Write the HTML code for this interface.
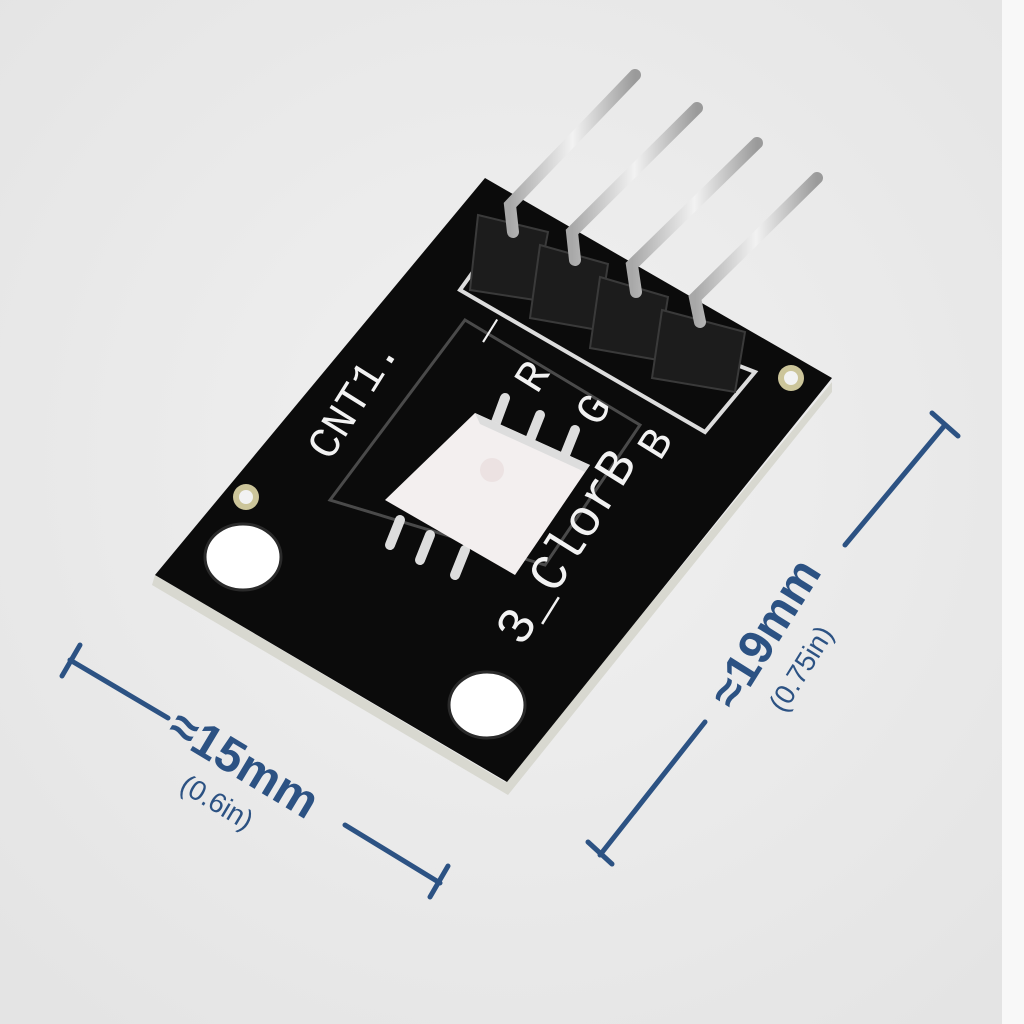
<!DOCTYPE html>
<html><head><meta charset="utf-8"><style>
html,body{margin:0;padding:0;width:1024px;height:1024px;overflow:hidden;background:#ebebeb}
svg{display:block}
</style></head><body>
<svg width="1024" height="1024" viewBox="0 0 1024 1024" xmlns="http://www.w3.org/2000/svg">
<defs>
<radialGradient id="bg" cx="50%" cy="45%" r="70%"><stop offset="0" stop-color="#f1f1f1"/><stop offset="1" stop-color="#e4e4e4"/></radialGradient>
<linearGradient id="pin" x1="0" y1="0" x2="1" y2="0"><stop offset="0" stop-color="#a8a8a8"/><stop offset="0.5" stop-color="#f2f2f2"/><stop offset="1" stop-color="#9a9a9a"/></linearGradient>
</defs>
<rect width="1024" height="1024" fill="url(#bg)"/>
<rect x="1002" y="0" width="22" height="1024" fill="#f8f8f8"/>
<polygon points="155,575 505,782 832,382 832,392 508,795 152,585" fill="#d8d8d0"/>
<polygon points="485,178 832,378 507,782 155,575" fill="#0b0b0b"/>
<ellipse cx="243" cy="557" rx="38" ry="33" fill="#fff" stroke="#2a2a2a" stroke-width="3"/>
<ellipse cx="487" cy="705" rx="38" ry="33" fill="#fff" stroke="#2a2a2a" stroke-width="3"/>
<circle cx="246" cy="497" r="13" fill="#ccc59a"/><circle cx="246" cy="497" r="7" fill="#f2f2f2"/>
<circle cx="791" cy="378" r="13" fill="#ccc59a"/><circle cx="791" cy="378" r="7" fill="#f2f2f2"/>
<polygon points="478,265 755,372 705,432 460,290" fill="none" stroke="#ddd" stroke-width="4"/>
<polygon points="465,320 640,425 545,565 330,500" fill="none" stroke="#4a4a4a" stroke-width="3"/>
<g fill="#1c1c1c" stroke="#3a3a3a" stroke-width="2">
<polygon points="478,215 548,232 535,300 470,290"/>
<polygon points="540,245 608,264 598,330 530,318"/>
<polygon points="600,277 668,297 658,360 590,348"/>
<polygon points="662,310 745,332 735,392 652,378"/>
</g>
<g stroke="url(#pin)" stroke-width="12" stroke-linecap="round" fill="none">
<path d="M513,232 L510,205 L635,75"/>
<path d="M575,260 L572,232 L697,108"/>
<path d="M636,292 L632,265 L757,143"/>
<path d="M700,322 L695,298 L817,178"/>
</g>
<g stroke="#ddd" stroke-width="10" stroke-linecap="round">
<line x1="505" y1="398" x2="495" y2="425"/><line x1="540" y1="415" x2="530" y2="440"/><line x1="575" y1="430" x2="565" y2="455"/>
<line x1="400" y1="520" x2="390" y2="545"/><line x1="430" y1="535" x2="420" y2="560"/><line x1="465" y1="550" x2="455" y2="575"/>
</g>
<polygon points="475,413 590,465 515,575 385,500" fill="#f3efef"/>
<polygon points="475,413 590,465 585,472 480,424" fill="#ddd"/>
<circle cx="492" cy="470" r="12" fill="#ece2e2"/>
<g fill="#f2f2f2" font-family="'Liberation Mono',monospace" font-size="44">
<text transform="translate(330,462) rotate(-58)">CNT1.</text>
<text transform="translate(537,395) rotate(-58)">R</text>
<text transform="translate(598,428) rotate(-58)">G</text>
<text transform="translate(660,462) rotate(-58)">B</text>
<text transform="translate(522,648) rotate(-58)" font-size="52">3_ClorB</text>
<text transform="translate(480,340) rotate(-58)">_</text>
</g>
<g stroke="#2c5283" stroke-width="5" fill="none" stroke-linecap="round">
<line x1="70" y1="660" x2="168" y2="718"/>
<line x1="345" y1="825" x2="440" y2="883"/>
<line x1="62" y1="676" x2="80" y2="645"/>
<line x1="430" y1="897" x2="448" y2="866"/>
<line x1="600" y1="855" x2="705" y2="722"/>
<line x1="845" y1="545" x2="945" y2="425"/>
<line x1="588" y1="842" x2="612" y2="864"/>
<line x1="932" y1="413" x2="958" y2="436"/>
</g>
<g fill="#2c5283" font-family="'Liberation Sans',sans-serif">
<text transform="translate(165,735) rotate(31)" font-size="48" font-weight="bold">≈15mm</text>
<text transform="translate(178,790) rotate(31)" font-size="28">(0.6in)</text>
<text transform="translate(735,712) rotate(-58)" font-size="48" font-weight="bold">≈19mm</text>
<text transform="translate(784,714) rotate(-58)" font-size="28">(0.75in)</text>
</g>
</svg>
</body></html>
